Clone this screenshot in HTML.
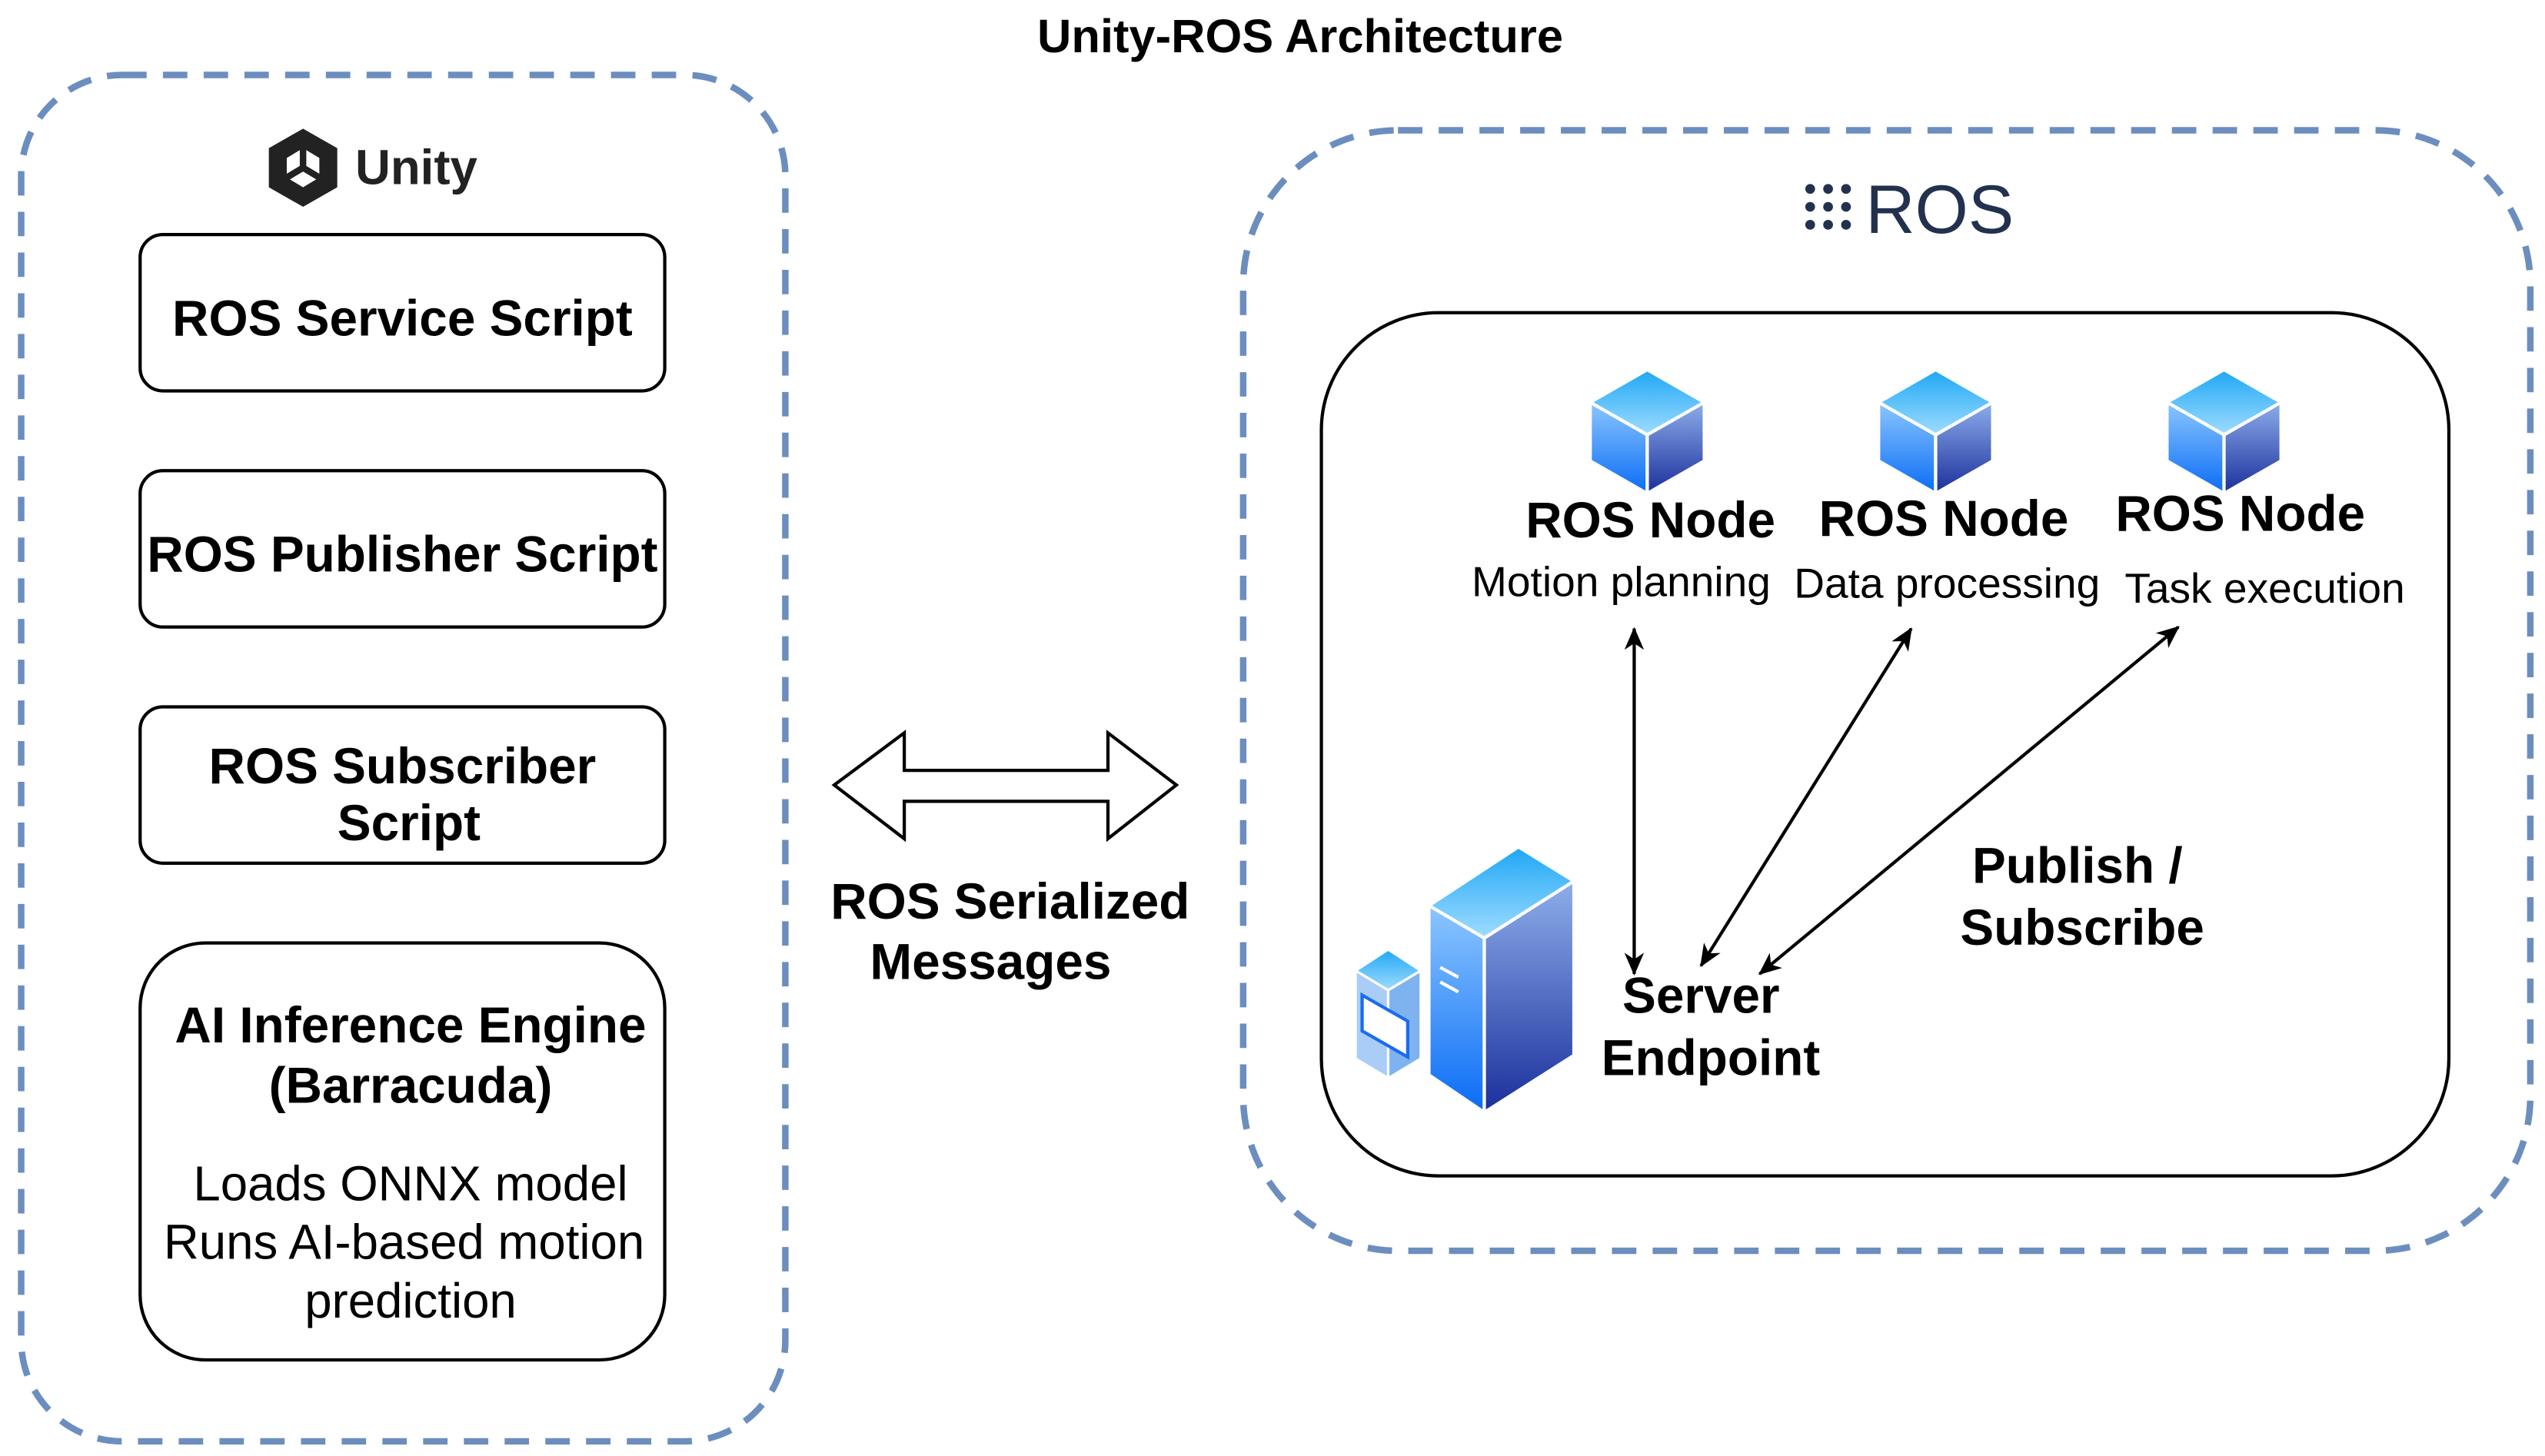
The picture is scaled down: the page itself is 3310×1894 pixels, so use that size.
<!DOCTYPE html>
<html><head><style>html,body{margin:0;padding:0;background:#fff}svg{display:block}</style></head>
<body>
<svg width="3310" height="1894" viewBox="0 0 1562 894" preserveAspectRatio="none" xmlns="http://www.w3.org/2000/svg" font-family="'Liberation Sans', sans-serif">
<defs>
<linearGradient id="top" x1="0" y1="0" x2="0" y2="1"><stop offset="0" stop-color="#1ea7f5"/><stop offset="1" stop-color="#9fdcff"/></linearGradient>
<linearGradient id="lf" x1="0" y1="0" x2="0" y2="1"><stop offset="0" stop-color="#8cc6ff"/><stop offset="1" stop-color="#0a6cf5"/></linearGradient>
<linearGradient id="rf" x1="0" y1="0" x2="0" y2="1"><stop offset="0" stop-color="#8eaeea"/><stop offset="1" stop-color="#1a2f9c"/></linearGradient>
<marker id="ah" markerWidth="14" markerHeight="14" refX="13" refY="6" orient="auto-start-reverse" markerUnits="userSpaceOnUse"><path d="M0,0 L14,6 L0,12 L4,6 z" fill="#000"/></marker>
<g id="cube">
<path d="M0,-35 L35,-15 L0,5 L-35,-15 z" fill="url(#top)" stroke="#fff" stroke-width="2"/>
<path d="M-35,-15 L0,5 L0,41 L-35,21 z" fill="url(#lf)" stroke="#fff" stroke-width="2"/>
<path d="M35,-15 L0,5 L0,41 L35,21 z" fill="url(#rf)" stroke="#fff" stroke-width="2"/>
</g>
</defs>
<text x="798" y="32" font-size="29" font-weight="bold" text-anchor="middle">Unity-ROS Architecture</text>

<rect x="13" y="46" width="469" height="839" rx="62" fill="none" stroke="#6c8ebf" stroke-width="4" stroke-dasharray="15 10"/>
<g transform="translate(186,103)">
<path d="M0,-24 L21,-12 L21,12 L0,24 L-21,12 L-21,-12 z" fill="#222"/>
<path d="M0,-12 L10,-6 L10,6 L0,12 L-10,6 L-10,-6 z" fill="#fff"/>
<path d="M0,-12 L0,0 L10,6 M0,0 L-10,6" stroke="#222" stroke-width="4" fill="none"/>
</g>
<text x="218" y="113" font-size="30" font-weight="bold" fill="#222">Unity</text>

<g fill="#fff" stroke="#000" stroke-width="2">
<rect x="86" y="144" width="322" height="96" rx="14"/>
<rect x="86" y="289" width="322" height="96" rx="14"/>
<rect x="86" y="434" width="322" height="96" rx="14"/>
<rect x="86" y="579" width="322" height="256" rx="40"/>
</g>
<g font-size="31" font-weight="bold" text-anchor="middle">
<text x="247" y="206">ROS Service Script</text>
<text x="247" y="351">ROS Publisher Script</text>
<text x="247" y="481">ROS Subscriber</text>
<text x="251" y="516">Script</text>
<text x="252" y="640">AI Inference Engine</text>
<text x="252" y="677">(Barracuda)</text>
</g>
<g font-size="30" text-anchor="middle">
<text x="252" y="737">Loads ONNX model</text>
<text x="248" y="773">Runs AI-based motion</text>
<text x="252" y="809">prediction</text>
</g>

<path d="M512,482 L555,450 L555,473 L680,473 L680,450 L722,482 L680,515 L680,492 L555,492 L555,515 z" fill="#fff" stroke="#000" stroke-width="2"/>
<g font-size="31" font-weight="bold" text-anchor="middle">
<text x="620" y="564">ROS Serialized</text>
<text x="608" y="601">Messages</text>
</g>

<rect x="763" y="80" width="790" height="688" rx="95" fill="none" stroke="#6c8ebf" stroke-width="4" stroke-dasharray="15 10"/>
<g fill="#22314e">
<circle cx="1111" cy="116" r="3"/><circle cx="1122" cy="116" r="3"/><circle cx="1133" cy="116" r="3"/>
<circle cx="1111" cy="127" r="3"/><circle cx="1122" cy="127" r="3"/><circle cx="1133" cy="127" r="3"/>
<circle cx="1111" cy="138" r="3"/><circle cx="1122" cy="138" r="3"/><circle cx="1133" cy="138" r="3"/>
</g>
<text x="1145" y="143" font-size="42" fill="#22314e">ROS</text>

<rect x="811" y="192" width="692" height="530" rx="72" fill="#fff" stroke="#000" stroke-width="2"/>
<use href="#cube" x="1011" y="262"/>
<use href="#cube" x="1188" y="262"/>
<use href="#cube" x="1365" y="262"/>
<g font-size="31" font-weight="bold" text-anchor="middle">
<text x="1013" y="330">ROS Node</text>
<text x="1193" y="329">ROS Node</text>
<text x="1375" y="326">ROS Node</text>
</g>
<g font-size="26" text-anchor="middle">
<text x="995" y="366">Motion planning</text>
<text x="1195" y="367">Data processing</text>
<text x="1390" y="370">Task execution</text>
</g>

<g stroke="#000" stroke-width="2" fill="none" marker-start="url(#ah)" marker-end="url(#ah)">
<line x1="1003" y1="386" x2="1003" y2="598"/>
<line x1="1173" y1="386" x2="1044" y2="593"/>
<line x1="1337" y1="385" x2="1080" y2="598"/>
</g>

<!-- small server -->
<path d="M832,596 L852,583 L872,596 L852,608 z" fill="url(#top)" stroke="#fff" stroke-width="1.5"/>
<path d="M832,596 L852,608 L852,662 L832,650 z" fill="#a9cdf7" stroke="#fff" stroke-width="1.5"/>
<path d="M852,608 L872,596 L872,650 L852,662 z" fill="#7fb3f0" stroke="#fff" stroke-width="1.5"/>
<path d="M836,611 L864,627 L864,649 L836,633 z" fill="#fff" stroke="#1a6cf0" stroke-width="2"/>
<!-- big server -->
<path d="M877,556 L932,520 L966,541 L911,576 z" fill="url(#top)" stroke="#fff" stroke-width="2"/>
<path d="M877,556 L911,576 L911,683 L877,660 z" fill="url(#lf)" stroke="#fff" stroke-width="2"/>
<path d="M966,541 L911,576 L911,683 L966,648 z" fill="url(#rf)" stroke="#fff" stroke-width="2"/>
<path d="M884,594 L895,600 M884,603 L895,609" stroke="#fff" stroke-width="2"/>

<g font-size="31" font-weight="bold" text-anchor="middle">
<text x="1044" y="622">Server</text>
<text x="1050" y="660">Endpoint</text>
<text x="1275" y="542">Publish /</text>
<text x="1278" y="580">Subscribe</text>
</g>
</svg>
</body></html>
